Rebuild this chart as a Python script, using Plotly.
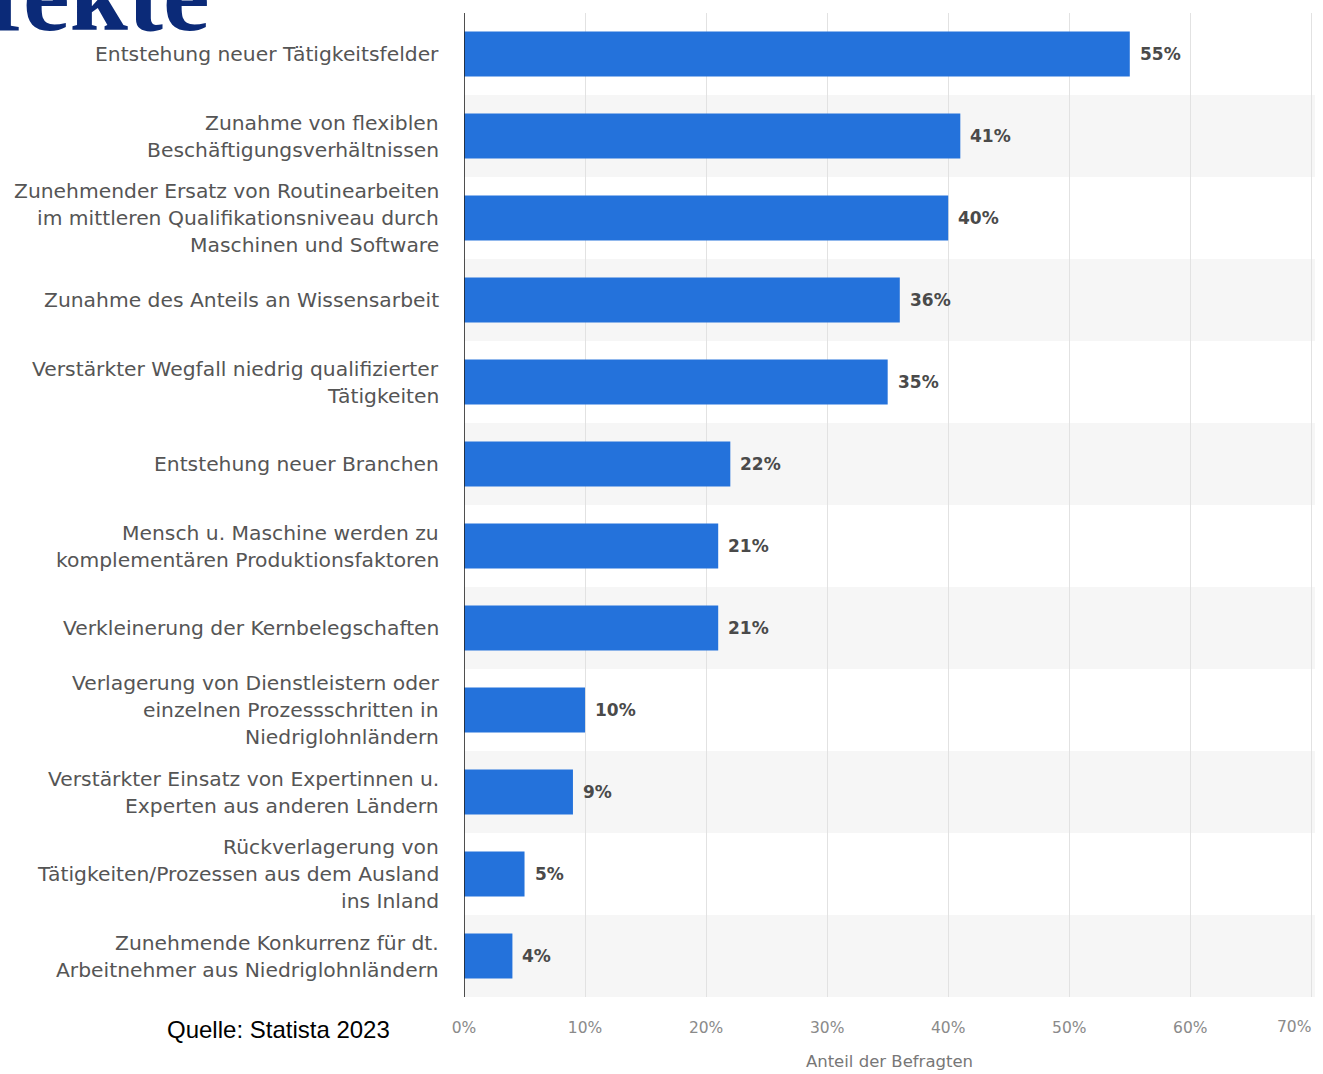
import plotly.graph_objects as go

# Survey answers, top to bottom, with share of respondents (%)
categories = [
    "Entstehung neuer Tätigkeitsfelder",
    "Zunahme von flexiblen<br>Beschäftigungsverhältnissen",
    "Zunehmender Ersatz von Routinearbeiten<br>im mittleren Qualifikationsniveau durch<br>Maschinen und Software",
    "Zunahme des Anteils an Wissensarbeit",
    "Verstärkter Wegfall niedrig qualifizierter<br>Tätigkeiten",
    "Entstehung neuer Branchen",
    "Mensch u. Maschine werden zu<br>komplementären Produktionsfaktoren",
    "Verkleinerung der Kernbelegschaften",
    "Verlagerung von Dienstleistern oder<br>einzelnen Prozessschritten in<br>Niedriglohnländern",
    "Verstärkter Einsatz von Expertinnen u.<br>Experten aus anderen Ländern",
    "Rückverlagerung von<br>Tätigkeiten/Prozessen aus dem Ausland<br>ins Inland",
    "Zunehmende Konkurrenz für dt.<br>Arbeitnehmer aus Niedriglohnländern",
]
values = [55, 41, 40, 36, 35, 22, 21, 21, 10, 9, 5, 4]

x_ticks = [0, 10, 20, 30, 40, 50, 60, 70]
x_tick_labels = ["0%", "10%", "20%", "30%", "40%", "50%", "60%", "70%"]

axis_title = "Anteil der Befragten"
source_text = "Quelle: Statista 2023"
heading_text = "Effekte"

BAR_COLOR = "#2472db"
LABEL_FONT = "DejaVu Sans"
TICK_FONT = dict(family=LABEL_FONT, size=15.5, color="#8a8a8a")
W, H = 1323, 1074
L, R, T, B = 464, 8, 13, 77
plot_h = H - T - B
plot_w = W - L - R
X_MAX = 70.3

idx = list(range(len(categories)))

fig = go.Figure()
fig.add_trace(go.Bar(
    x=values,
    y=idx,
    orientation="h",
    width=0.55,
    marker=dict(color=BAR_COLOR, line=dict(width=0)),
    hoverinfo="skip",
))

shapes = []
# alternating light row bands
for i in idx:
    if i % 2 == 1:
        shapes.append(dict(
            type="rect", xref="paper", yref="y",
            x0=0, x1=1.0, y0=i - 0.5, y1=i + 0.5,
            fillcolor="#f6f6f6", line=dict(width=0), layer="below",
        ))

annotations = []
# category labels, one annotation per text line
LINE_GAP = 27
for i, cat in enumerate(categories):
    lines = cat.split("<br>")
    n = len(lines)
    for k, line in enumerate(lines):
        offset = ((n - 1) / 2 - k) * LINE_GAP
        annotations.append(dict(
            x=0, xref="paper", y=i, yref="y",
            xanchor="right", yanchor="middle",
            xshift=-23, yshift=offset,
            text=line, showarrow=False,
            font=dict(family=LABEL_FONT, size=20.3, color="#555555"),
        ))

# value labels next to each bar
for i, v in enumerate(values):
    annotations.append(dict(
        x=v, xref="x", y=i, yref="y",
        xanchor="left", yanchor="middle", xshift=8,
        text=f"<b>{v}%</b>", showarrow=False,
        font=dict(family=LABEL_FONT, size=17, color="#4a4a4a"),
    ))

# the last tick label is pulled inside the page edge
annotations.append(dict(
    x=x_ticks[-1], xref="x", y=0, yref="paper",
    xanchor="right", yanchor="middle", xshift=2, yshift=-30,
    text=x_tick_labels[-1], showarrow=False, font=TICK_FONT,
))
shown_tick_text = x_tick_labels[:-1] + [""]

# source note
annotations.append(dict(
    x=(278 - L) / plot_w, xref="paper",
    y=(H - B - 1029) / plot_h, yref="paper",
    xanchor="center", yanchor="middle",
    text=source_text, showarrow=False,
    font=dict(family="Liberation Sans", size=24, color="#000000"),
))

# heading, partly above the page edge
annotations.append(dict(
    x=(212 - L) / plot_w, xref="paper",
    y=(H - B + 6) / plot_h, yref="paper",
    xanchor="right", yanchor="middle",
    text=f"<b>{heading_text}</b>", showarrow=False,
    font=dict(family="Liberation Serif", size=105, color="#0b2a78"),
))

fig.update_layout(
    width=W, height=H,
    margin=dict(l=L, r=R, t=T, b=B, pad=0),
    paper_bgcolor="white",
    plot_bgcolor="white",
    showlegend=False,
    shapes=shapes,
    annotations=annotations,
    xaxis=dict(
        range=[0, X_MAX],
        tickvals=x_ticks,
        ticktext=shown_tick_text,
        automargin=False,
        showgrid=True,
        gridcolor="#e2e2e2",
        gridwidth=1,
        zeroline=False,
        showline=False,
        ticks="",
        ticklabelstandoff=19,
        tickfont=TICK_FONT,
        title=dict(
            text=axis_title,
            standoff=19,
            font=dict(family=LABEL_FONT, size=16.5, color="#777777"),
        ),
        fixedrange=True,
    ),
    yaxis=dict(
        range=[len(categories) - 0.5, -0.5],
        showticklabels=False,
        showgrid=False,
        zeroline=False,
        ticks="",
        automargin=False,
        fixedrange=True,
    ),
)

# dark baseline at 0%
fig.add_shape(
    type="line", xref="x", yref="paper",
    x0=0, x1=0, y0=0, y1=1,
    line=dict(color="#222222", width=1.6), layer="above",
)

fig.write_html("out.html")
